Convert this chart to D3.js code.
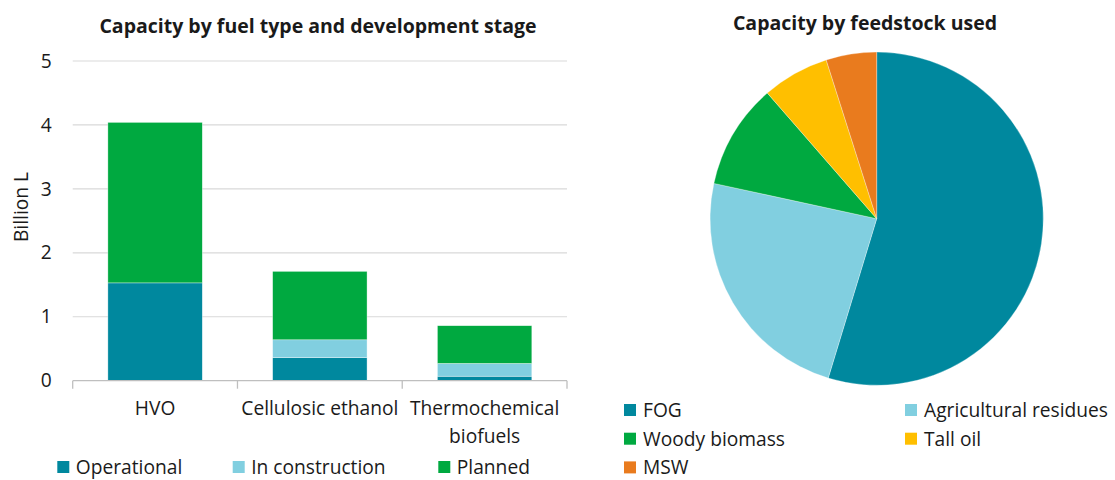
<!DOCTYPE html>
<html>
<head>
<meta charset="utf-8">
<script src="https://cdn.jsdelivr.net/npm/d3@7"></script>
<style>
  html, body { margin: 0; padding: 0; background: #fff; }
  svg text { font-family: "Open Sans", "Noto Sans", sans-serif; fill: #1a1a1a; }
</style>
</head>
<body>
<svg id="chart" width="1115" height="480"></svg>
<script>
// Stacked bars: capacity by fuel type and development stage (billion litres)
const fuelTypes = ["HVO", "Cellulosic ethanol", "Thermochemical biofuels"];
const stages = ["Operational", "In construction", "Planned"];
const operational = [1.53, 0.36, 0.07];
const inConstruction = [0.0, 0.28, 0.20];
const planned = [2.51, 1.07, 0.59];
const yTicks = [0, 1, 2, 3, 4, 5];

// Pie: capacity by feedstock used (share, %)
const feedstocks = ["FOG", "Agricultural residues", "Woody biomass", "Tall oil", "MSW"];
const feedstockShare = [54.7, 23.7, 10.2, 6.5, 4.9];

const stageColors = ["#00889e", "#81cfe0", "#00a940"];
const feedColors = ["#00889e", "#81cfe0", "#00a940", "#ffbf00", "#e97b1e"];

const FS = 19.2;        // body text size
const TITLE_FS = 19.5;  // panel titles

const svg = d3.select("#chart");

// ---------- Bar chart ----------
const x = d3.scaleBand()
  .domain(fuelTypes)
  .range([72.7, 567])
  .paddingInner(0.427)
  .paddingOuter(0.2135);
const y = d3.scaleLinear().domain([0, 5]).range([380.7, 61]);

svg.append("text")
  .attr("x", 318).attr("y", 33)
  .attr("text-anchor", "middle")
  .attr("font-weight", "bold")
  .attr("font-size", TITLE_FS)
  .text("Capacity by fuel type and development stage");

// gridlines
svg.append("g").selectAll("line")
  .data(yTicks.filter(d => d > 0))
  .join("line")
  .attr("x1", 72.7).attr("x2", 567)
  .attr("y1", d => y(d)).attr("y2", d => y(d))
  .attr("stroke", "#d9d9d9").attr("stroke-width", 1.2);

// y axis labels
const yAxis = svg.append("g")
  .attr("transform", "translate(72.7,0)")
  .call(d3.axisLeft(y).tickValues(yTicks).tickFormat(d3.format("d")).tickSize(0).tickPadding(21));
yAxis.select(".domain").remove();
yAxis.selectAll("text")
  .attr("font-size", FS)
  .attr("fill", "#1a1a1a")
  .style("font-family", "'Open Sans', 'Noto Sans', sans-serif");

svg.append("text")
  .attr("transform", "translate(28,207) rotate(-90)")
  .attr("text-anchor", "middle")
  .attr("font-size", FS)
  .text("Billion L");

// stacked bars
const rows = fuelTypes.map((f, i) => ({
  fuel: f,
  "Operational": operational[i],
  "In construction": inConstruction[i],
  "Planned": planned[i]
}));
const stacked = d3.stack().keys(stages)(rows);

svg.append("g").selectAll("g")
  .data(stacked)
  .join("g")
  .attr("fill", (d, i) => stageColors[i])
  .selectAll("rect")
  .data(d => d)
  .join("rect")
  .attr("x", d => x(d.data.fuel))
  .attr("width", x.bandwidth())
  .attr("y", d => y(d[1]))
  .attr("height", d => Math.max(0, y(d[0]) - y(d[1])))
  .attr("stroke", "#ffffff")
  .attr("stroke-opacity", 0.6)
  .attr("stroke-width", 0.6);

// x axis baseline and category dividers
const step = x.step();
const boundaries = fuelTypes.map(f => x(f) - step * x.paddingInner() / 2)
  .concat([x(fuelTypes[fuelTypes.length - 1]) + x.bandwidth() + step * x.paddingInner() / 2]);
svg.append("line")
  .attr("x1", 72.7).attr("x2", 567)
  .attr("y1", y(0)).attr("y2", y(0))
  .attr("stroke", "#bfbfbf").attr("stroke-width", 1.3);
svg.append("g").selectAll("line")
  .data(boundaries)
  .join("line")
  .attr("x1", d => d).attr("x2", d => d)
  .attr("y1", y(0)).attr("y2", y(0) + 8)
  .attr("stroke", "#bfbfbf").attr("stroke-width", 1.3);

// category labels (wrapped where needed)
const catLines = { "Thermochemical biofuels": ["Thermochemical", "biofuels"] };
svg.append("g").selectAll("text")
  .data(fuelTypes)
  .join("text")
  .attr("text-anchor", "middle")
  .attr("font-size", FS)
  .each(function (f) {
    const lines = catLines[f] || [f];
    const cx = x(f) + x.bandwidth() / 2;
    d3.select(this).selectAll("tspan")
      .data(lines)
      .join("tspan")
      .attr("x", cx)
      .attr("y", (d, i) => 415 + i * 28)
      .text(d => d);
  });

// bar legend
const barLegendX = [57.3, 232.7, 438.3];
const barLegend = svg.append("g").selectAll("g")
  .data(stages)
  .join("g")
  .attr("transform", (d, i) => `translate(${barLegendX[i]},461)`);
barLegend.append("rect")
  .attr("width", 12).attr("height", 12)
  .attr("fill", (d, i) => stageColors[i]);
barLegend.append("text")
  .attr("x", 18.5).attr("y", 12.5)
  .attr("font-size", FS)
  .text(d => d);

// ---------- Pie chart ----------
const cx = 876.7, cy = 218.7, r = 166.6;

svg.append("text")
  .attr("x", 865).attr("y", 30)
  .attr("text-anchor", "middle")
  .attr("font-weight", "bold")
  .attr("font-size", TITLE_FS)
  .text("Capacity by feedstock used");

const pie = d3.pie().sort(null).value(d => d.v);
const arc = d3.arc().innerRadius(0).outerRadius(r);
const pieData = pie(feedstocks.map((f, i) => ({ f, v: feedstockShare[i] })));

svg.append("g")
  .attr("transform", `translate(${cx},${cy})`)
  .selectAll("path")
  .data(pieData)
  .join("path")
  .attr("d", arc)
  .attr("fill", (d, i) => feedColors[i])
  .attr("stroke", "#ffffff")
  .attr("stroke-opacity", 0.5)
  .attr("stroke-width", 0.6);

// pie legend: two columns
const pieLegend = svg.append("g").selectAll("g")
  .data(feedstocks)
  .join("g")
  .attr("transform", (d, i) => `translate(${i % 2 === 0 ? 624 : 905},${404 + Math.floor(i / 2) * 28.7})`);
pieLegend.append("rect")
  .attr("width", 12).attr("height", 12)
  .attr("fill", (d, i) => feedColors[i]);
pieLegend.append("text")
  .attr("x", 19).attr("y", 13)
  .attr("font-size", FS)
  .text(d => d);
</script>
</body>
</html>
